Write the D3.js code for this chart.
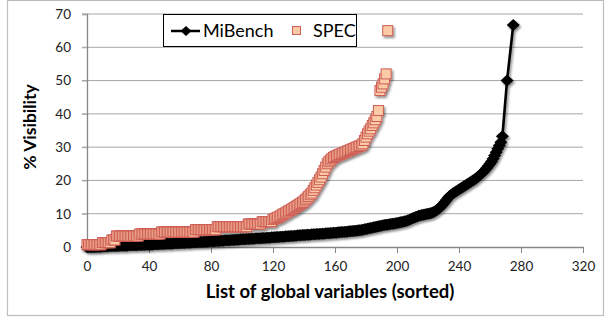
<!DOCTYPE html>
<html>
<head>
<meta charset="utf-8">
<script src="https://cdn.jsdelivr.net/npm/d3@7"></script>
<style>
  body { margin: 0; background: #fff; }
  text { font-family: Lato, "Open Sans", sans-serif; }
</style>
</head>
<body>
<div id="chart"></div>
<script>
// Chart Params
var svgWidth = 605;
var svgHeight = 317;

// x ticks / y ticks
var xTicks = [0, 40, 80, 120, 160, 200, 240, 280, 320];
var yTicks = [0, 10, 20, 30, 40, 50, 60, 70];

// MiBench: % visibility of each global, sorted (index = x)
var mibench = [
  0, 0, 0, 0, 0, 0, 0.1, 0.1, 0.1, 0.1,
  0.2, 0.2, 0.2, 0.2, 0.2, 0.3, 0.3, 0.3, 0.3, 0.3,
  0.3, 0.4, 0.4, 0.4, 0.4, 0.4, 0.4, 0.5, 0.5, 0.5,
  0.5, 0.5, 0.5, 0.6, 0.6, 0.6, 0.6, 0.6, 0.7, 0.7,
  0.7, 0.7, 0.7, 0.8, 0.8, 0.8, 0.8, 0.9, 0.9, 0.9,
  0.9, 1.0, 1.0, 1.0, 1.0, 1.0, 1.1, 1.1, 1.1, 1.1,
  1.2, 1.2, 1.2, 1.2, 1.3, 1.3, 1.3, 1.3, 1.4, 1.4,
  1.4, 1.4, 1.5, 1.5, 1.5, 1.5, 1.6, 1.6, 1.6, 1.7,
  1.7, 1.7, 1.7, 1.8, 1.8, 1.8, 1.9, 1.9, 1.9, 2.0,
  2.0, 2.0, 2.0, 2.1, 2.1, 2.1, 2.2, 2.2, 2.2, 2.3,
  2.3, 2.3, 2.3, 2.4, 2.4, 2.4, 2.5, 2.5, 2.5, 2.6,
  2.6, 2.6, 2.6, 2.7, 2.7, 2.7, 2.8, 2.8, 2.8, 2.9,
  2.9, 2.9, 3.0, 3.0, 3.0, 3.1, 3.1, 3.1, 3.2, 3.2,
  3.2, 3.3, 3.3, 3.3, 3.4, 3.4, 3.5, 3.5, 3.5, 3.6,
  3.6, 3.6, 3.7, 3.7, 3.7, 3.8, 3.8, 3.8, 3.9, 3.9,
  3.9, 4.0, 4.0, 4.0, 4.1, 4.1, 4.1, 4.2, 4.2, 4.3,
  4.3, 4.3, 4.4, 4.4, 4.5, 4.5, 4.5, 4.6, 4.6, 4.7,
  4.7, 4.8, 4.8, 4.9, 4.9, 5.0, 5.0, 5.1, 5.2, 5.3,
  5.4, 5.5, 5.6, 5.7, 5.8, 5.9, 6.0, 6.1, 6.2, 6.3,
  6.4, 6.5, 6.6, 6.7, 6.7, 6.8, 6.9, 7.0, 7.0, 7.1,
  7.2, 7.3, 7.4, 7.5, 7.6, 7.7, 7.8, 8.0, 8.2, 8.4,
  8.6, 8.8, 9.0, 9.2, 9.4, 9.5, 9.6, 9.7, 9.8, 9.9,
  10.0, 10.1, 10.2, 10.4, 10.6, 10.9, 11.2, 11.6, 12.0, 12.5,
  13.0, 13.6, 14.2, 14.8, 15.3, 15.7, 16.1, 16.4, 16.7, 17.0,
  17.3, 17.6, 17.9, 18.2, 18.5, 18.8, 19.1, 19.4, 19.7, 20.0,
  20.3, 20.6, 21.0, 21.4, 21.8, 22.2, 22.7, 23.2, 23.8, 24.4,
  25.0, 25.7, 26.5, 27.5, 28.5, 29.5, 30.5, 31.5, 33.3
];
// the last two MiBench globals sit a little further right
var mibenchTailX = [271, 275];
var mibenchTailY = [50.0, 66.7];

// SPEC: % visibility, sorted (index = x)
var spec = [
  0.7, 0.7, 0.7, 0.7, 0.7, 0.7, 0.7, 0.7, 0.7, 0.7,
  1.3, 1.3, 1.3, 1.3, 1.3, 1.3, 2.1, 2.1, 2.1, 3.3,
  3.3, 3.3, 3.3, 3.3, 3.3, 3.3, 3.3, 3.3, 3.3, 3.3,
  3.3, 3.3, 3.3, 3.3, 3.9, 3.9, 3.9, 3.9, 3.9, 3.9,
  3.9, 3.9, 3.9, 3.9, 3.9, 3.9, 3.9, 3.9, 4.5, 4.5,
  4.5, 4.5, 4.5, 4.5, 4.5, 4.5, 4.5, 4.5, 4.5, 4.5,
  4.5, 4.5, 4.5, 4.5, 4.5, 4.5, 4.5, 4.5, 4.5, 4.5,
  5.2, 5.2, 5.2, 5.2, 5.2, 5.2, 5.2, 5.2, 5.2, 5.2,
  5.2, 5.2, 5.2, 5.2, 6.1, 6.1, 6.1, 6.1, 6.1, 6.1,
  6.1, 6.1, 6.1, 6.1, 6.1, 6.1, 6.1, 6.1, 6.1, 6.1,
  6.1, 6.1, 6.1, 6.1, 6.9, 6.9, 6.9, 6.9, 6.9, 6.9,
  6.9, 6.9, 6.9, 7.6, 7.6, 7.6, 7.6, 7.6, 7.6, 7.6,
  8.3, 8.5, 8.7, 8.9, 9.1, 9.4, 9.7, 10.0, 10.2, 10.5,
  10.8, 11.0, 11.3, 11.6, 11.9, 12.2, 12.5, 12.8, 13.1, 13.4,
  13.8, 14.2, 14.7, 15.2, 15.7, 16.2, 17.0, 17.8, 18.6, 19.4,
  20.2, 21.0, 22.0, 23.0, 24.0, 25.0, 25.6, 26.1, 26.5, 26.9,
  27.2, 27.4, 27.6, 27.8, 28.0, 28.2, 28.4, 28.6, 28.8, 29.0,
  29.2, 29.4, 29.6, 29.8, 30.0, 30.2, 30.4, 30.6, 31.0, 32.0,
  33.0, 34.0, 34.8, 35.5, 36.5, 37.3, 38.2, 39.2, 41.0, 47.0,
  48.0, 49.0, 50.5, 52.0, 65.0
];

var seriesNames = ["MiBench", "SPEC"];

// plot area
var margin = { top: 14, right: 22, bottom: 70, left: 87 };
var width = svgWidth - margin.left - margin.right;
var height = svgHeight - margin.top - margin.bottom;

var svg = d3.select("#chart")
  .append("svg")
  .attr("width", svgWidth)
  .attr("height", svgHeight);

// drop shadow like the spreadsheet markers
var defs = svg.append("defs");
var shadow = defs.append("filter")
  .attr("id", "shadow")
  .attr("x", "-10%").attr("y", "-10%")
  .attr("width", "120%").attr("height", "120%");
shadow.append("feDropShadow")
  .attr("dx", 1.5).attr("dy", 2)
  .attr("stdDeviation", 1.3)
  .attr("flood-color", "#000")
  .attr("flood-opacity", 0.45);

// outer frame
svg.append("rect")
  .attr("x", 7.5).attr("y", 0.5)
  .attr("width", 596).attr("height", 315)
  .attr("fill", "none")
  .attr("stroke", "#bdbdbd")
  .attr("stroke-width", 1.2);

var chartGroup = svg.append("g")
  .attr("transform", `translate(${margin.left}, ${margin.top})`);

var xScale = d3.scaleLinear().domain([0, 320]).range([0, width]);
var yScale = d3.scaleLinear().domain([0, 70]).range([height, 0]);

// gridlines
chartGroup.append("g")
  .selectAll("line")
  .data(yTicks.slice(1))
  .enter()
  .append("line")
  .attr("x1", -5)
  .attr("x2", width)
  .attr("y1", d => yScale(d))
  .attr("y2", d => yScale(d))
  .attr("stroke", "#a6a6a6")
  .attr("stroke-width", 1);

// y axis
var leftAxis = d3.axisLeft(yScale).tickValues(yTicks).tickSize(5).tickPadding(11);
var yAxis = chartGroup.append("g").call(leftAxis);
yAxis.select(".domain").attr("stroke", "#868686").attr("stroke-width", 1.3);
yAxis.selectAll(".tick line").attr("stroke", "#a6a6a6");
yAxis.selectAll(".tick text")
  .style("font-size", "13.5px")
  .style("font-family", "Lato, sans-serif")
  .attr("fill", "#222");

// x axis
var bottomAxis = d3.axisBottom(xScale).tickValues(xTicks).tickSize(6).tickPadding(8).tickSizeOuter(0);
var xAxis = chartGroup.append("g")
  .attr("transform", `translate(0, ${height})`)
  .call(bottomAxis);
xAxis.select(".domain").attr("stroke", "#868686").attr("stroke-width", 1.3);
xAxis.selectAll(".tick line").attr("stroke", "#868686");
xAxis.selectAll(".tick text")
  .style("font-size", "13.5px")
  .style("font-family", "Lato, sans-serif")
  .attr("fill", "#222");

// MiBench line + diamonds
var miPoints = mibench.map((v, i) => [i, v]);
mibenchTailX.forEach((x, i) => miPoints.push([x, mibenchTailY[i]]));

var miGroup = chartGroup.append("g").attr("filter", "url(#shadow)");
miGroup.append("path")
  .datum(miPoints)
  .attr("fill", "none")
  .attr("stroke", "#000")
  .attr("stroke-width", 2.6)
  .attr("d", d3.line().x(d => xScale(d[0])).y(d => yScale(d[1])));

var diamond = "M0,-6 L6.5,0 L0,6 L-6.5,0 Z";
miGroup.selectAll("path.dia")
  .data(miPoints)
  .enter()
  .append("path")
  .attr("class", "dia")
  .attr("d", diamond)
  .attr("transform", d => `translate(${xScale(d[0])}, ${yScale(d[1])})`)
  .attr("fill", "#000");

// SPEC squares
var specGroup = chartGroup.append("g").attr("filter", "url(#shadow)");
specGroup.selectAll("rect")
  .data(spec)
  .enter()
  .append("rect")
  .attr("x", (d, i) => xScale(i) - 5)
  .attr("y", d => yScale(d) - 5)
  .attr("width", 10)
  .attr("height", 10)
  .attr("fill", "#fbcaa6")
  .attr("stroke", "#cd5c55")
  .attr("stroke-width", 1);

// legend
var legend = svg.append("g");
legend.append("rect")
  .attr("x", 163.5).attr("y", 14.5)
  .attr("width", 193).attr("height", 32)
  .attr("fill", "#fff")
  .attr("stroke", "#000")
  .attr("stroke-width", 1);

legend.append("line")
  .attr("x1", 171).attr("x2", 200)
  .attr("y1", 31).attr("y2", 31)
  .attr("stroke", "#000")
  .attr("stroke-width", 2.5);
legend.append("path")
  .attr("d", "M0,-5 L5.5,0 L0,5 L-5.5,0 Z")
  .attr("transform", "translate(186, 31)")
  .attr("fill", "#000");
legend.append("text")
  .attr("x", 203).attr("y", 37)
  .style("font-size", "18px")
  .attr("fill", "#000")
  .text(seriesNames[0]);

legend.append("rect")
  .attr("x", 292.5).attr("y", 26.5)
  .attr("width", 8).attr("height", 8)
  .attr("fill", "#fbcaa6")
  .attr("stroke", "#cd5c55")
  .attr("stroke-width", 1);
legend.append("text")
  .attr("x", 313).attr("y", 37)
  .style("font-size", "18px")
  .attr("fill", "#000")
  .text(seriesNames[1]);

// axis titles
svg.append("text")
  .attr("transform", "rotate(-90)")
  .attr("x", -127)
  .attr("y", 36)
  .attr("text-anchor", "middle")
  .style("font-size", "17.5px")
  .style("font-weight", "bold")
  .text("% Visibility");

svg.append("text")
  .attr("x", 330)
  .attr("y", 298)
  .attr("text-anchor", "middle")
  .style("font-size", "18.5px")
  .style("font-weight", "bold")
  .text("List of global variables (sorted)");
</script>
</body>
</html>
